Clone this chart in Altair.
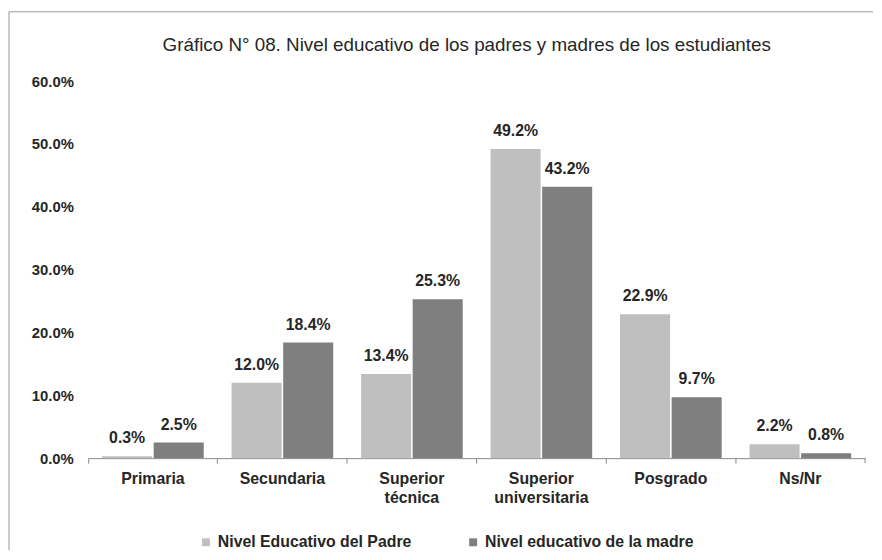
import altair as alt
import pandas as pd

categories = ["Primaria", "Secundaria", "Superior técnica", "Superior universitaria", "Posgrado", "Ns/Nr"]
series = ["Nivel Educativo del Padre", "Nivel educativo de la madre"]
padre = [0.003, 0.120, 0.134, 0.492, 0.229, 0.022]
madre = [0.025, 0.184, 0.253, 0.432, 0.097, 0.008]
y_ticks = [0.0, 0.1, 0.2, 0.3, 0.4, 0.5, 0.6]
colors = ["#BFBFBF", "#7F7F7F"]
title_text = "Gráfico N° 08. Nivel educativo de los padres y madres de los estudiantes"

rows = []
for c, p, m in zip(categories, padre, madre):
    rows.append({"cat": c, "serie": series[0], "val": p})
    rows.append({"cat": c, "serie": series[1], "val": m})
df = pd.DataFrame(rows)

FONT = "Liberation Sans"
W, H = 785, 381
TXT = "#262626"

x = alt.X("cat:N", sort=categories,
          scale=alt.Scale(paddingInner=0, paddingOuter=0),
          axis=alt.Axis(title=None, labelAngle=0, bandPosition=0, tickColor="#888888",
                        domainColor="#888888", tickSize=5, labelPadding=8,
                        labelFont=FONT, labelFontSize=16, labelFontWeight="bold",
                        labelColor=TXT, labelLineHeight=19,
                        labelExpr="indexof(datum.label, 'Superior') == 0 ? split(datum.label, ' ') : datum.label"))
xo = alt.XOffset("serie:N", sort=series,
                 scale=alt.Scale(paddingInner=0.03, paddingOuter=0.27))
y = alt.Y("val:Q", scale=alt.Scale(domain=[0, 0.6], nice=False),
          axis=alt.Axis(title=None, values=y_ticks, format=".1%", grid=False, domain=False,
                        ticks=False, labelPadding=15, labelFont=FONT, labelFontSize=15,
                        labelFontWeight="bold", labelColor=TXT))
color = alt.Color("serie:N", sort=series,
                  scale=alt.Scale(domain=series, range=colors),
                  legend=alt.Legend(title=None, orient="none", legendX=111, legendY=458,
                                    direction="horizontal", symbolType="square", symbolSize=64,
                                    symbolStrokeWidth=0, labelFont=FONT, labelFontSize=16,
                                    labelFontWeight="bold", labelLimit=400,
                                    labelColor=TXT, columnPadding=54, labelOffset=4))

base = alt.Chart(df)
bars = base.mark_bar(strokeWidth=0).encode(x=x, xOffset=xo, y=y, color=color)
labels = base.mark_text(baseline="bottom", dy=-10, font=FONT, fontSize=16, fontWeight="bold",
                        color=TXT).encode(x=x, xOffset=xo, y=y,
                                          text=alt.Text("val:Q", format=".1%"))

one = alt.Data(values=[{"t": title_text}])
title = alt.Chart(one).mark_text(font=FONT, fontSize=19, color=TXT, align="center",
                                 baseline="middle").encode(
    x=alt.value(W / 2 - 10), y=alt.value(-36), text="t:N")
end_tick = alt.Chart(one).mark_rule(color="#888888").encode(
    x=alt.value(W), y=alt.value(H), y2=alt.value(H + 5))
frame_left = alt.Chart(one).mark_rule(color="#999999").encode(
    x=alt.value(-80), y=alt.value(-70), y2=alt.value(H + 93))
frame_top = alt.Chart(one).mark_rule(color="#999999").encode(
    x=alt.value(-80), x2=alt.value(793), y=alt.value(-70))

chart = alt.layer(bars, labels, title, end_tick, frame_left, frame_top).properties(
    width=W, height=H,
    padding={"left": 0, "top": 0, "right": 0, "bottom": 0},
).configure(background="white").configure_view(strokeWidth=0, stroke="transparent")

chart.save("out.html", embed_options={"renderer": "svg", "actions": False})
